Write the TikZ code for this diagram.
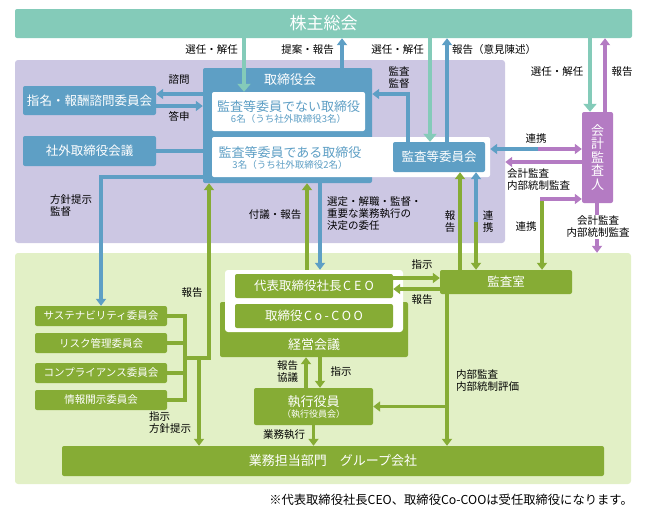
\documentclass[tikz,border=0pt]{standalone}
\usepackage{fontspec}
\setmainfont{Noto Sans CJK JP}
\usepackage{tikz}
\usetikzlibrary{positioning,calc,arrows.meta}
\definecolor{tealc}{HTML}{84CBB9}
\definecolor{bluec}{HTML}{5E9FC5}
\definecolor{grnc}{HTML}{86AC35}
\definecolor{purc}{HTML}{B47BC3}
\definecolor{lavc}{HTML}{CCC7E3}
\definecolor{lgrnc}{HTML}{E2F0C6}

\begin{document}
\begin{tikzpicture}[x=1pt, y=-1pt,
    box/.style={rounded corners=2pt, inner sep=0pt, text=white, align=center},
    bluebox/.style={box, fill=bluec},
    grnbox/.style={box, fill=grnc},
    wbox/.style={fill=white, rounded corners=2pt, inner sep=0pt},
    cmte/.style={grnbox, minimum width=132pt, minimum height=20pt, font=\fontsize{10.5}{12}\selectfont},
    lbl/.style={inner sep=0pt, align=left, font=\fontsize{10.5}{12}\selectfont},
    ln/.style={line width=3.2pt},
    tip/.style={-{Triangle[width=10pt,length=7pt]}},
    ttip/.style={-{Triangle[width=13pt,length=8pt]}}]
    \useasboundingbox (0,0) rectangle (647,514);

    % panels
    \node[fill=lavc, rounded corners=3pt, inner sep=0, minimum width=490pt, minimum height=183pt] (purp) at (260,151.5) {};
    \node[fill=lgrnc, rounded corners=3pt, inner sep=0, minimum width=616pt, minimum height=231pt] (grnp) at (323,368.5) {};

    % shareholders
    \node[box, fill=tealc, minimum width=617pt, minimum height=29pt, font=\fontsize{17}{20}\selectfont] (gsm) at (323.5,23.5) {株主総会};

    % board of directors
    \node[bluebox, minimum width=169pt, minimum height=115pt] (board) at (287.5,125.5) {};
    \node[text=white, inner sep=0, font=\fontsize{13}{15}\selectfont] (boardt) at (290,80) {取締役会};
    \node[wbox, minimum width=153pt, minimum height=39pt, text=bluec, align=center] (nonaud) at (288.5,111.5)
        {\fontsize{13}{14}\selectfont 監査等委員でない取締役\\[-1pt]{\fontsize{9.5}{11}\selectfont 6名（うち社外取締役3名）}};
    \node[wbox, minimum width=278pt, minimum height=40pt] (audwhite) at (351,157) {};
    \node[text=bluec, align=center, inner sep=0] (audmem) at (290,158)
        {\fontsize{13}{14}\selectfont 監査等委員である取締役\\[-1pt]{\fontsize{9.5}{11}\selectfont 3名（うち社外取締役2名）}};
    \node[bluebox, minimum width=92pt, minimum height=30pt, font=\fontsize{12.5}{14}\selectfont] (auditcom) at (439,157) {監査等委員会};

    \node[bluebox, minimum width=133pt, minimum height=29pt, font=\fontsize{12.5}{14}\selectfont] (nomcom) at (89.5,100.5) {指名・報酬諮問委員会};
    \node[bluebox, minimum width=133pt, minimum height=30pt, font=\fontsize{12.5}{14}\selectfont] (outdir) at (89.5,151) {社外取締役会議};

    % auditor
    \node[box, fill=purc, minimum width=31pt, minimum height=91pt, font=\fontsize{13}{13.5}\selectfont] (accaud) at (597.5,157.5) {会\\計\\監\\査\\人};

    % management
    \node[grnbox, minimum width=188pt, minimum height=55pt] (mgmt) at (314,329.5) {};
    \node[text=white, inner sep=0, font=\fontsize{13}{15}\selectfont] (mgmtt) at (314,345) {経営会議};
    \node[wbox, rounded corners=3pt, minimum width=178pt, minimum height=62pt] (mgmtw) at (314,301) {};
    \node[grnbox, minimum width=158pt, minimum height=24pt, font=\fontsize{12.5}{14}\selectfont] (ceo) at (314,286)
        {代表取締役社長\hspace{1.5pt}C\hspace{3pt}E\hspace{3pt}O};
    \node[grnbox, minimum width=158pt, minimum height=24pt, font=\fontsize{12.5}{14}\selectfont] (coo) at (314,316)
        {取締役\hspace{1.5pt}C\hspace{2.5pt}o\hspace{2.5pt}-\hspace{2.5pt}C\hspace{2.5pt}O\hspace{2.5pt}O};
    \node[grnbox, minimum width=119pt, minimum height=37pt] (exec) at (313.5,406.5)
        {\fontsize{13}{14}\selectfont 執行役員\\[-1pt]{\fontsize{9}{10}\selectfont （執行役員会）}};
    \node[grnbox, minimum width=132pt, minimum height=24pt, font=\fontsize{12.5}{14}\selectfont] (auditoff) at (506,282) {監査室};

    % committees
    \node[cmte] (sust) at (101,316) {サステナビリティ委員会};
    \node[cmte] (risk) at (101,343) {リスク管理委員会};
    \node[cmte] (comp) at (101,373) {コンプライアンス委員会};
    \node[cmte] (disc) at (101,400) {情報開示委員会};

    \node[grnbox, minimum width=542pt, minimum height=30pt, font=\fontsize{13}{15}\selectfont] (bizdiv) at (333,461) {業務担当部門　グループ会社};

    % bend points
    \coordinate (xa) at (244,0);  \coordinate (xb) at (342,0);
    \coordinate (xc) at (430,0);  \coordinate (xd) at (447,0);
    \coordinate (xe) at (408,0);  \coordinate (ye) at (0,94);
    \coordinate (yf) at (0,94);   \coordinate (yg) at (0,106);
    \coordinate (yh) at (0,177);
    \coordinate (xbus) at (185,0); \coordinate (xrep) at (209,0);
    \coordinate (xdn) at (199,0);  \coordinate (yj) at (0,358);
    \coordinate (xfg) at (307,0);  \coordinate (xsel) at (320,0);
    \coordinate (yi) at (0,278);   \coordinate (yr) at (0,289);
    \coordinate (xi) at (447,0);
    \coordinate (xk) at (306,0);   \coordinate (xl) at (320,0);
    \coordinate (xm) at (460,0);   \coordinate (xn) at (476,0);
    \coordinate (ysp) at (0,222);
    \coordinate (yco) at (0,149);  \coordinate (xsp) at (538,0);
    \coordinate (yacc) at (0,162);
    \coordinate (xo) at (542,0);   \coordinate (yo) at (0,199);
    \coordinate (xp) at (597,0);
    \coordinate (xq) at (590,0);   \coordinate (xr) at (605,0);

    % shareholders links
    \draw[ln, ttip, tealc] (gsm.south -| xa) -- (nonaud.north -| xa);
    \draw[ln, tip, bluec] (board.north -| xb) -- (gsm.south -| xb);
    \draw[ln, ttip, tealc] (gsm.south -| xc) -- (auditcom.north -| xc);
    \draw[ln, tip, bluec] (auditcom.north -| xd) -- (gsm.south -| xd);
    \draw[ln, ttip, tealc] (gsm.south -| xq) -- (accaud.north -| xq);
    \draw[ln, tip, purc] (accaud.north -| xr) -- (gsm.south -| xr);

    % audit committee
    \draw[ln, tip, bluec] (auditcom.north -| xe) -- (xe |- ye) -- (board.east |- ye);
    \draw[ln, tip, bluec] (xsp |- yco) -- (audwhite.east |- yco);
    \draw[ln, tip, purc] (xsp |- yco) -- (accaud.west |- yco);
    \draw[ln, tip, purc] (accaud.west |- yacc) -- (purp.east |- yacc);
    \draw[ln, tip, purc] (accaud.south -| xp) -- (grnp.north -| xp);

    % left side
    \draw[ln, tip, bluec] (board.west |- yf) -- (nomcom.east |- yf);
    \draw[ln, tip, bluec] (nomcom.east |- yg) -- (board.west |- yg);
    \draw[ln, bluec] (outdir.east) -- (board.west |- outdir.east);
    \draw[ln, tip, bluec] (board.west |- yh) -| (sust.north);

    % committees bus
    \draw[ln, grnc] (sust.east) -| (xbus |- disc.east) -- (disc.east);
    \draw[ln, grnc] (risk.east) -- (xbus |- risk.east);
    \draw[ln, grnc] (comp.east) -- (xbus |- comp.east);
    \draw[ln, tip, grnc] (xbus |- yj) -| (board.south -| xrep);
    \draw[ln, tip, grnc] (xdn |- yj) -- (bizdiv.north -| xdn);

    % board and ceo
    \draw[ln, tip, grnc] (mgmtw.north -| xfg) -- (board.south -| xfg);
    \draw[ln, tip, bluec] (board.south -| xsel) -- (mgmtw.north -| xsel);
    \draw[ln, tip, grnc] (ceo.east |- yi) -- (auditoff.west |- yi);
    \draw[ln, tip, grnc] (auditoff.west |- yr) -- (ceo.east |- yr);

    % audit office
    \draw[ln, tip, grnc] (auditoff.north -| xm) -- (auditcom.south -| xm);
    \draw[ln, tip, bluec] (xn |- ysp) -- (auditcom.south -| xn);
    \draw[ln, tip, grnc] (xn |- ysp) -- (auditoff.north -| xn);
    \draw[ln, tip, grnc] (xo |- yo) -- (auditoff.north -| xo);
    \draw[ln, tip, purc] ([xshift=-1.6pt]xo |- yo) -- (accaud.west |- yo);
    \draw[ln, tip, grnc] (auditoff.south -| xi) -- (bizdiv.north -| xi);
    \draw[ln, tip, grnc] (xi |- exec.east) -- (exec.east);

    % execution
    \draw[ln, tip, grnc] (exec.north -| xk) -- (mgmt.south -| xk);
    \draw[ln, tip, grnc] (mgmt.south -| xl) -- (exec.north -| xl);
    \draw[ln, tip, grnc] (exec.south) -- (bizdiv.north -| exec.south);

    % labels
    \node[lbl] (l1) at (211.5,50) {選任・解任};
    \node[lbl] (l2) at (307.5,50) {提案・報告};
    \node[lbl] (l3) at (397.5,50) {選任・解任};
    \node[lbl] (l4) at (494,50) {報告（意見陳述）};
    \node[lbl] (l5) at (557,72) {選任・解任};
    \node[lbl] (l6) at (622,72) {報告};
    \node[lbl] (l7) at (179,80) {諮問};
    \node[lbl] (l8) at (179,116) {答申};
    \node[lbl] (l9) at (399,78) {監査\\監督};
    \node[lbl] (l10) at (536,139) {連携};
    \node[lbl, anchor=north west] (l11) at (507,168) {会計監査\\内部統制監査};
    \node[lbl, align=center, fill=white, inner sep=1pt] (l12) at (598,227) {会計監査\\内部統制監査};
    \node[lbl] (l13) at (526,227) {連携};
    \node[lbl] (l14) at (450,222) {報\\告};
    \node[lbl] (l15) at (488,222) {連\\携};
    \node[lbl, anchor=north west] (l16) at (50,194) {方針提示\\監督};
    \node[lbl] (l17) at (275,215) {付議・報告};
    \node[lbl, anchor=north west] (l18) at (327,196) {選定・解職・監督・\\重要な業務執行の\\決定の委任};
    \node[lbl] (l19) at (192,293) {報告};
    \node[lbl] (l20) at (422,265) {指示};
    \node[lbl] (l21) at (422,300) {報告};
    \node[lbl, anchor=north west] (l22) at (456,369) {内部監査\\内部統制評価};
    \node[lbl, anchor=north west] (l23) at (277,360) {報告\\協議};
    \node[lbl] (l24) at (341,372) {指示};
    \node[lbl] (l25) at (284,435) {業務執行};
    \node[lbl, anchor=north west] (l26) at (149,411) {指示\\方針提示};

    % note
    \node[inner sep=0, anchor=east, font=\fontsize{12.3}{14}\selectfont] (note) at (633,500) {※代表取締役社長CEO、取締役Co-COOは受任取締役になります。};
\end{tikzpicture}
\end{document}
